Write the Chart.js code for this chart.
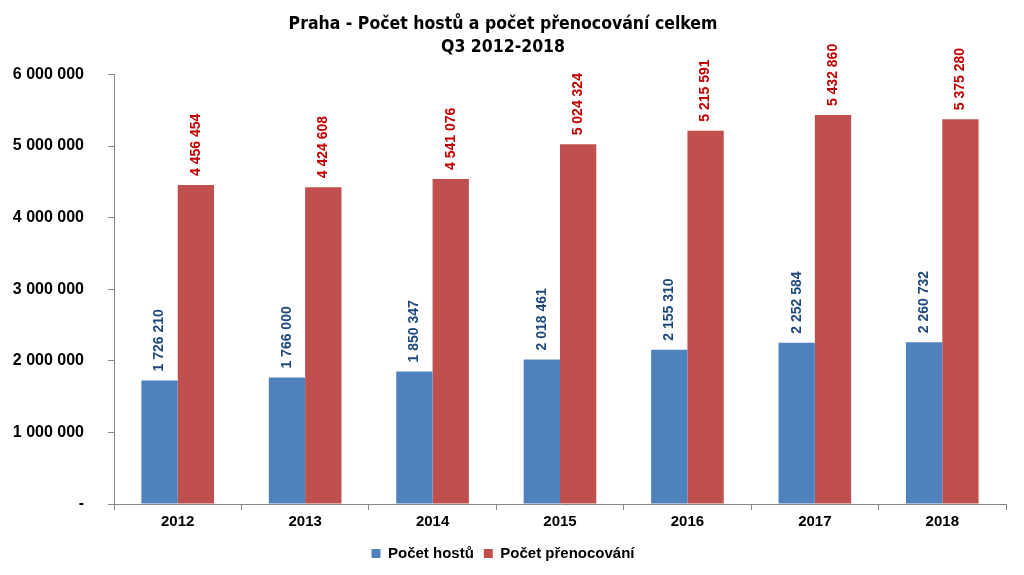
<!DOCTYPE html>
<html lang="cs">
<head>
    <meta charset="UTF-8">
    <title>Praha - Počet hostů a počet přenocování</title>
    <script src="https://cdn.jsdelivr.net/npm/chart.js"></script>
    <style>
        body { margin: 0; background: #ffffff; }
        #wrap { width: 1024px; height: 575px; }
    </style>
</head>
<body>
    <div id="wrap"><canvas id="chart" width="1024" height="575"></canvas></div>

    <script>
        // chart data
        const years = ['2012', '2013', '2014', '2015', '2016', '2017', '2018'];
        const guests = [1726210, 1766000, 1850347, 2018461, 2155310, 2252584, 2260732];
        const overnights = [4456454, 4424608, 4541076, 5024324, 5215591, 5432860, 5375280];
        const yTicks = [0, 1000000, 2000000, 3000000, 4000000, 5000000, 6000000];

        const labelColors = ['#1F497D', '#C00000'];

        // number with space as thousands separator
        function fmt(n) {
            return String(n).replace(/\B(?=(\d{3})+(?!\d))/g, ' ');
        }

        // vertical value labels above each bar
        const barLabels = {
            id: 'barLabels',
            afterDatasetsDraw(chart) {
                const ctx = chart.ctx;
                chart.data.datasets.forEach((ds, i) => {
                    const meta = chart.getDatasetMeta(i);
                    meta.data.forEach((bar, j) => {
                        ctx.save();
                        ctx.translate(bar.x, bar.y - 9);
                        ctx.rotate(-Math.PI / 2);
                        ctx.font = 'bold 14px "Liberation Sans", Arial, sans-serif';
                        ctx.fillStyle = labelColors[i];
                        ctx.textAlign = 'left';
                        ctx.textBaseline = 'middle';
                        ctx.fillText(fmt(ds.data[j]), 0, 0);
                        ctx.restore();
                    });
                });
            }
        };

        const ctx = document.getElementById('chart').getContext('2d');
        new Chart(ctx, {
            type: 'bar',
            data: {
                labels: years,
                datasets: [{
                    label: 'Počet hostů',
                    data: guests,
                    backgroundColor: '#4F81BD',
                    categoryPercentage: 0.57,
                    barPercentage: 1
                }, {
                    label: 'Počet přenocování',
                    data: overnights,
                    backgroundColor: '#C0504D',
                    categoryPercentage: 0.57,
                    barPercentage: 1
                }]
            },
            options: {
                responsive: false,
                animation: false,
                layout: { padding: { left: 0, right: 18, top: 0, bottom: 4 } },
                plugins: {
                    title: {
                        display: true,
                        text: ['Praha - Počet hostů a počet přenocování celkem', 'Q3 2012-2018'],
                        color: '#000',
                        font: { family: '"DejaVu Sans Condensed", "Liberation Sans Narrow", Arial, sans-serif', size: 17.5, weight: 'bold', lineHeight: 1.3 },
                        padding: { top: 13, bottom: 16 }
                    },
                    legend: {
                        position: 'bottom',
                        labels: {
                            color: '#000',
                            boxWidth: 9,
                            boxHeight: 9,
                            padding: 10,
                            font: { family: '"Liberation Sans", Arial, sans-serif', size: 15, weight: 'bold' }
                        }
                    },
                    tooltip: { enabled: false }
                },
                scales: {
                    x: {
                        grid: { drawOnChartArea: false, color: '#868686', tickLength: 6, offset: true },
                        border: { color: '#868686' },
                        ticks: {
                            color: '#000',
                            font: { family: '"Liberation Sans", Arial, sans-serif', size: 15, weight: 'bold' }
                        },
                        afterFit(scale) { scale.height = 32; }
                    },
                    y: {
                        min: 0,
                        max: 6000000,
                        afterBuildTicks(scale) { scale.ticks = yTicks.map(v => ({ value: v })); },
                        grid: { drawOnChartArea: false, color: '#868686', tickLength: 6 },
                        border: { color: '#868686' },
                        ticks: {
                            color: '#000',
                            padding: 24,
                            font: { family: '"Liberation Sans", Arial, sans-serif', size: 16, weight: 'bold' },
                            callback: v => v === 0 ? '-' : fmt(v)
                        },
                        afterFit(scale) { scale.width = 114; }
                    }
                }
            },
            plugins: [barLabels]
        });
    </script>
</body>
</html>
